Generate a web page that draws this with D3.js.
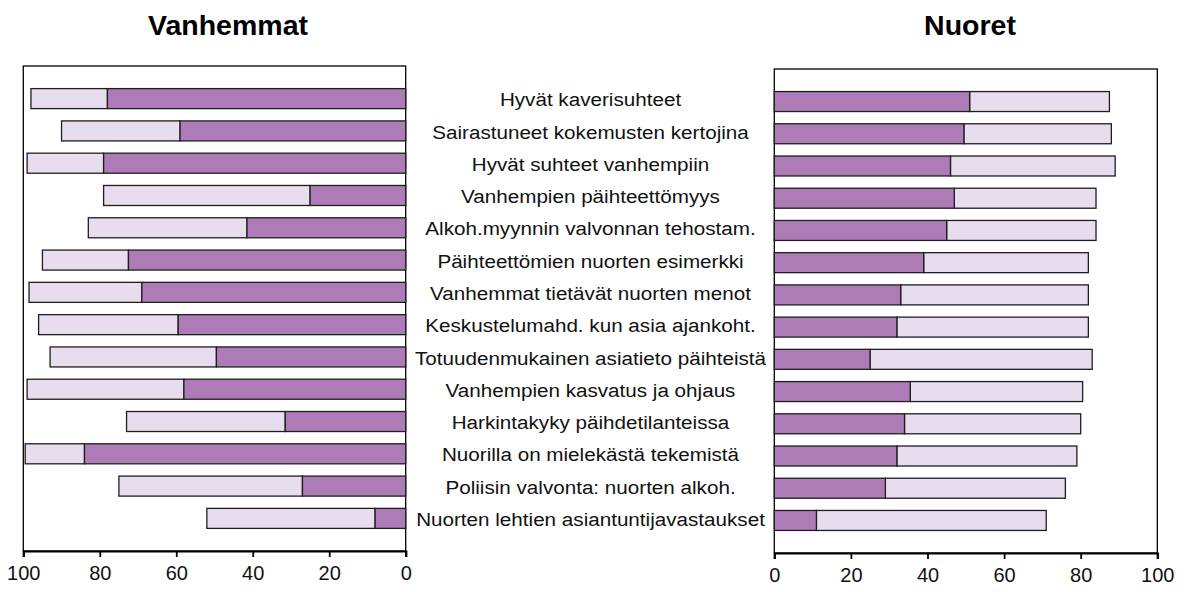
<!DOCTYPE html>
<html>
<head>
<meta charset="utf-8">
<script src="https://cdn.jsdelivr.net/npm/d3@7"></script>
<style>
  html, body { margin: 0; padding: 0; background: #fff; }
  svg { display: block; }
</style>
</head>
<body>
<svg id="chart" width="1184" height="592"></svg>
<script>
  "use strict";

  const categories = [
    "Hyvät kaverisuhteet",
    "Sairastuneet kokemusten kertojina",
    "Hyvät suhteet vanhempiin",
    "Vanhempien päihteettömyys",
    "Alkoh.myynnin valvonnan tehostam.",
    "Päihteettömien nuorten esimerkki",
    "Vanhemmat tietävät nuorten menot",
    "Keskustelumahd. kun asia ajankoht.",
    "Totuudenmukainen asiatieto päihteistä",
    "Vanhempien kasvatus ja ohjaus",
    "Harkintakyky päihdetilanteissa",
    "Nuorilla on mielekästä tekemistä",
    "Poliisin valvonta: nuorten alkoh.",
    "Nuorten lehtien asiantuntijavastaukset"
  ];

  // Vanhemmat (parents): dark segment and light segment, percent
  const parentsDark  = [78, 59, 79, 25, 41.5, 72.5, 69, 59.5, 49.5, 58, 31.5, 84, 27, 8];
  const parentsLight = [20, 31, 20, 54, 41.5, 22.5, 29.5, 36.5, 43.5, 41, 41.5, 15.5, 48, 44];

  // Nuoret (youth)
  const youthDark  = [51, 49.5, 46, 47, 45, 39, 33, 32, 25, 35.5, 34, 32, 29, 11];
  const youthLight = [36.5, 38.5, 43, 37, 39, 43, 49, 50, 58, 45, 46, 47, 47, 60];

  const ticks = [0, 20, 40, 60, 80, 100];

  const darkColor = "#ad7bb5";
  const lightColor = "#e8ddee";
  const edge = "#1e1e1e";

  const svg = d3.select("#chart");

  function drawPanel(opts) {
    const { x0, x1, top, bottom, dark, light, title, titleX } = opts;
    const x = d3.scaleLinear().domain([0, 100]).range([x0, x1]);
    const y = d3.scaleBand().domain(categories).range([top, bottom])
      .paddingInner(0.38).paddingOuter(0.7);

    const g = svg.append("g");

    // frame
    g.append("rect")
      .attr("x", Math.min(x0, x1)).attr("y", top)
      .attr("width", Math.abs(x1 - x0)).attr("height", bottom - top)
      .attr("fill", "none").attr("stroke", "#000").attr("stroke-width", 1.3);

    const rows = categories.map((c, i) => ({ c, d: dark[i], l: light[i] }));

    // light segment (stacked after dark)
    g.selectAll("rect.light").data(rows).join("rect")
      .attr("class", "light")
      .attr("x", (r) => Math.min(x(r.d), x(r.d + r.l)))
      .attr("width", (r) => Math.abs(x(r.d + r.l) - x(r.d)))
      .attr("y", (r) => y(r.c))
      .attr("height", y.bandwidth())
      .attr("fill", lightColor)
      .attr("stroke", edge).attr("stroke-width", 1.3);

    g.selectAll("rect.dark").data(rows).join("rect")
      .attr("class", "dark")
      .attr("x", (r) => Math.min(x(0), x(r.d)))
      .attr("width", (r) => Math.abs(x(r.d) - x(0)))
      .attr("y", (r) => y(r.c))
      .attr("height", y.bandwidth())
      .attr("fill", darkColor)
      .attr("stroke", edge).attr("stroke-width", 1.3);

    // bottom axis
    const axis = g.append("g")
      .attr("transform", `translate(0,${bottom})`)
      .call(d3.axisBottom(x).tickValues(ticks).tickSize(6).tickPadding(9).tickFormat(d3.format("d")));
    axis.select(".domain").attr("stroke", "#000").attr("stroke-width", 2.2);
    axis.selectAll(".tick line").attr("stroke", "#000").attr("stroke-width", 1.8);
    axis.selectAll(".tick text")
      .attr("fill", "#111")
      .style("font-family", "'Liberation Sans', Arial, Helvetica, sans-serif")
      .style("font-size", "20px");

    svg.append("text")
      .attr("x", titleX).attr("y", 35)
      .attr("text-anchor", "middle")
      .style("font-family", "'Liberation Sans', Arial, Helvetica, sans-serif")
      .style("font-weight", "bold")
      .style("font-size", "28.5px")
      .attr("fill", "#000")
      .text(title);

    return y;
  }

  const yLeft = drawPanel({
    x0: 405.7, x1: 23.3, top: 66, bottom: 551,
    dark: parentsDark, light: parentsLight,
    title: "Vanhemmat", titleX: 228
  });

  drawPanel({
    x0: 774.3, x1: 1157.3, top: 69, bottom: 553,
    dark: youthDark, light: youthLight,
    title: "Nuoret", titleX: 970
  });

  // category labels in the middle
  svg.append("g").selectAll("text").data(categories).join("text")
    .attr("transform", (c) => `translate(590.5,${yLeft(c) + yLeft.bandwidth() / 2 + 7.6}) scale(1.16,1)`)
    .attr("text-anchor", "middle")
    .style("font-family", "'Liberation Sans', Arial, Helvetica, sans-serif")
    .style("font-size", "17.8px")
    .attr("fill", "#111")
    .text((c) => c);
</script>
</body>
</html>
